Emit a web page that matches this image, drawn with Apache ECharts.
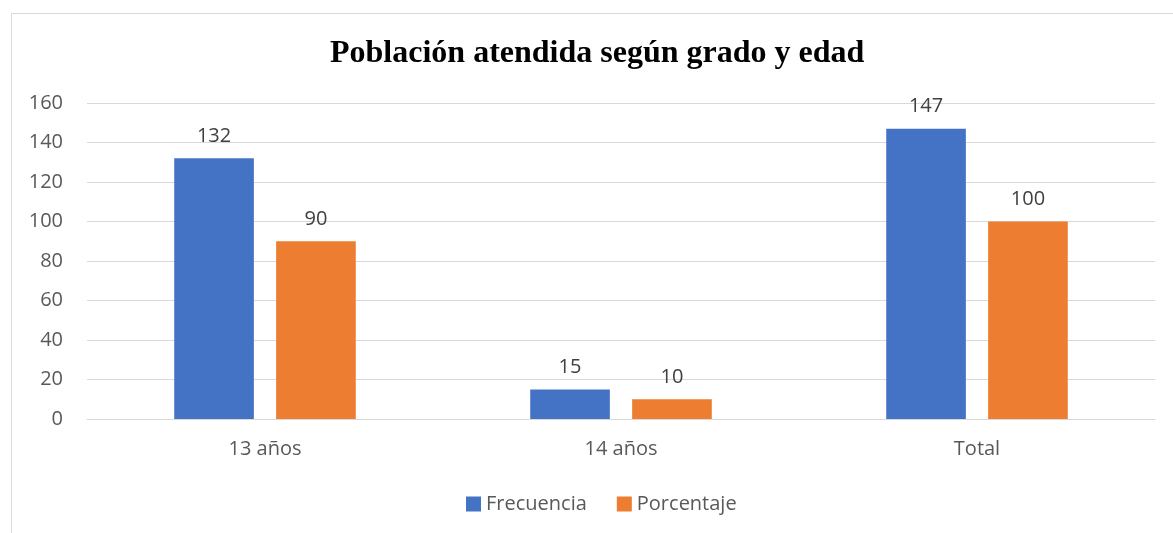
<!DOCTYPE html>
<html>
<head>
    <meta charset="UTF-8">
    <title>Población atendida según grado y edad</title>
    <style>
        * {
            margin: 0;
            padding: 0
        }

        #chart {
            width: 1173px;
            height: 533px;
        }
    </style>
</head>
<body>
<div id="chart"></div>
<script type="text/javascript" src="https://cdn.jsdelivr.net/npm/echarts@6/dist/echarts.min.js"></script>
<script type="text/javascript">
    // datos del gráfico
    var categorias = ['13 años', '14 años', 'Total'];
    var frecuencia = [132, 15, 147];
    var porcentaje = [90, 10, 100];

    var myChart = echarts.init(document.getElementById('chart'));
    var fuente = '"Open Sans", "Liberation Sans", sans-serif';
    var etiqueta = {
        show: true,
        position: 'top',
        distance: 12,
        color: '#404040',
        fontSize: 20,
        fontFamily: fuente
    };

    var option = {
        animation: false,
        backgroundColor: '#fff',
        title: {
            text: 'Población atendida según grado y edad',
            left: 325,
            top: 33,
            textStyle: {
                fontFamily: '"Liberation Serif", "Times New Roman", serif',
                fontWeight: 'bold',
                fontSize: 32,
                color: '#000'
            }
        },
        // marco del gráfico
        graphic: [{
            type: 'rect',
            shape: {x: 11.5, y: 13.5, width: 1300, height: 700},
            style: {fill: 'none', stroke: '#d9d9d9', lineWidth: 1},
            silent: true
        }],
        legend: {
            bottom: 14,
            left: 461,
            itemWidth: 15,
            itemHeight: 15,
            itemGap: 30,
            icon: 'rect',
            textStyle: {
                fontSize: 20,
                color: '#595959',
                fontFamily: fuente
            },
            data: ['Frecuencia', 'Porcentaje']
        },
        grid: {
            left: 87,
            right: 18,
            top: 103,
            bottom: 114
        },
        xAxis: {
            type: 'category',
            data: categorias,
            axisLine: {lineStyle: {color: '#d9d9d9'}},
            axisTick: {show: false},
            axisLabel: {
                margin: 20,
                fontSize: 20,
                color: '#595959',
                fontFamily: fuente
            }
        },
        yAxis: {
            type: 'value',
            min: 0,
            max: 160,
            interval: 20,
            axisLine: {show: false},
            axisTick: {show: false},
            splitLine: {lineStyle: {color: '#d9d9d9'}},
            axisLabel: {
                margin: 24,
                fontSize: 20,
                color: '#595959',
                fontFamily: fuente
            }
        },
        series: [
            {
                name: 'Frecuencia',
                type: 'bar',
                data: frecuencia,
                barGap: '28%',
                barCategoryGap: '49%',
                itemStyle: {color: '#4472C4'},
                label: etiqueta
            },
            {
                name: 'Porcentaje',
                type: 'bar',
                data: porcentaje,
                itemStyle: {color: '#ED7D31'},
                label: etiqueta
            }
        ]
    };

    myChart.setOption(option);
</script>
</body>
</html>
